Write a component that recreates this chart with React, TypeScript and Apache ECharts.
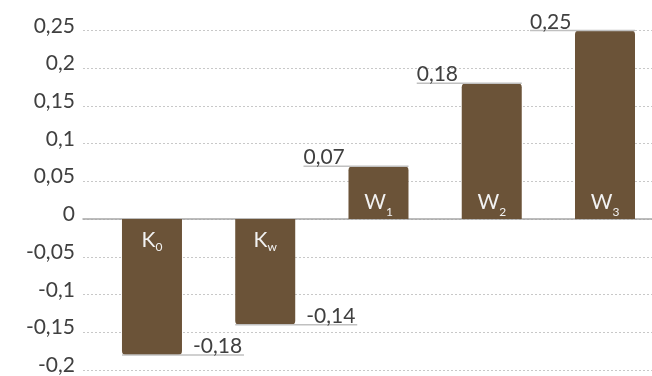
import React, { useEffect, useRef } from "react";
import * as echarts from "echarts";

const categories = ["K0", "Kw", "W1", "W2", "W3"];
const mainLetters = ["K", "K", "W", "W", "W"];
const subscripts = ["0", "w", "1", "2", "3"];
const values = [-0.18, -0.14, 0.07, 0.18, 0.25];
const yTicks = [-0.2, -0.15, -0.1, -0.05, 0, 0.05, 0.1, 0.15, 0.2, 0.25];

const fmt = (v: number) => String(Math.round(v * 100) / 100).replace(".", ",");

export default function App() {
  const ref = useRef<HTMLDivElement>(null);
  useEffect(() => {
    if (!ref.current) return;
    const chart = echarts.init(ref.current, undefined, { renderer: "svg" });
    const font = "Lato";
    const mainSize = 21;
    const subSize = 12;
    const ctx = document.createElement("canvas").getContext("2d");
    const measure = (t: string, size: number) => {
      if (!ctx) return size * 0.6 * t.length;
      ctx.font = `${size}px ${font}`;
      return ctx.measureText(t).width;
    };
    const barData = categories.map((name, i) => {
      const v = values[i];
      return {
        name,
        value: [i, v],
        itemStyle: { borderRadius: v >= 0 ? [4, 4, 0, 0] : [0, 0, 4, 4] },
      };
    });
    chart.setOption({
      animation: false,
      grid: { left: 83, right: 0, top: 30.5, bottom: 6, containLabel: false },
      xAxis: {
        type: "value",
        min: -0.609,
        max: 4.415,
        axisLabel: { show: false },
        axisTick: { show: false },
        splitLine: { show: false },
        axisLine: { show: true, onZero: true, lineStyle: { color: "#a6a6a6", width: 1.5 } },
      },
      yAxis: {
        type: "value",
        min: yTicks[0],
        max: yTicks[yTicks.length - 1],
        interval: 0.05,
        axisLine: { show: false },
        axisTick: { show: false },
        axisLabel: {
          fontFamily: font,
          fontSize: 21,
          color: "#404040",
          margin: 8,
          verticalAlign: "bottom",
          lineHeight: 13,
          formatter: (v: number) => fmt(v),
        },
        splitLine: { show: true, lineStyle: { color: "#c8c8c8", type: [2, 2], width: 1 } },
      },
      series: [
        {
          type: "bar",
          name: "values",
          data: barData,
          barWidth: 60,
          itemStyle: { color: "#6b5338" },
        },
        {
          type: "custom",
          name: "labels",
          data: values.map((v, i) => [i, v]),
          z: 5,
          renderItem: (params: any, api: any) => {
            const idx = params.dataIndex;
            const v = api.value(1);
            const p = api.coord([api.value(0), v]);
            const z0 = api.coord([api.value(0), 0]);
            const cx = p[0];
            const left = cx - 30;
            const right = cx + 30;
            const y = p[1];
            const lineStyle = { stroke: "#c0c0c0", lineWidth: 1.5 };
            const textStyle = { text: fmt(v), fontFamily: font, fontSize: 21, fill: "#404040", align: "left", verticalAlign: "bottom" };
            const mw = measure(mainLetters[idx], mainSize);
            const sw = measure(subscripts[idx], subSize);
            const startX = cx - (mw + sw) / 2;
            const pos = v >= 0;
            const mainY = pos ? z0[1] - 18.5 : z0[1] + 19;
            const subY = pos ? z0[1] - 7.5 : z0[1] + 27.5;
            const inside = [
              {
                type: "text",
                x: startX,
                y: mainY,
                style: { text: mainLetters[idx], fontFamily: font, fontSize: mainSize, fill: "#f2f2f2", align: "left", verticalAlign: "middle" },
              },
              {
                type: "text",
                x: startX + mw,
                y: subY,
                style: { text: subscripts[idx], fontFamily: font, fontSize: subSize, fill: "#f2f2f2", align: "left", verticalAlign: "middle" },
              },
            ];
            if (pos) {
              const x0 = left - 45;
              return {
                type: "group",
                children: [
                  { type: "line", shape: { x1: x0, y1: y, x2: right, y2: y }, style: lineStyle },
                  { type: "text", x: x0, y: y, style: textStyle },
                  ...inside,
                ],
              };
            }
            return {
              type: "group",
              children: [
                { type: "line", shape: { x1: left, y1: y, x2: right + 62, y2: y }, style: lineStyle },
                { type: "text", x: right + 11, y: y, style: textStyle },
                ...inside,
              ],
            };
          },
        },
      ],
    });
    return () => chart.dispose();
  }, []);
  return <div ref={ref} style={{ position: "fixed", left: 0, top: 0, width: 652, height: 376 }} />;
}
